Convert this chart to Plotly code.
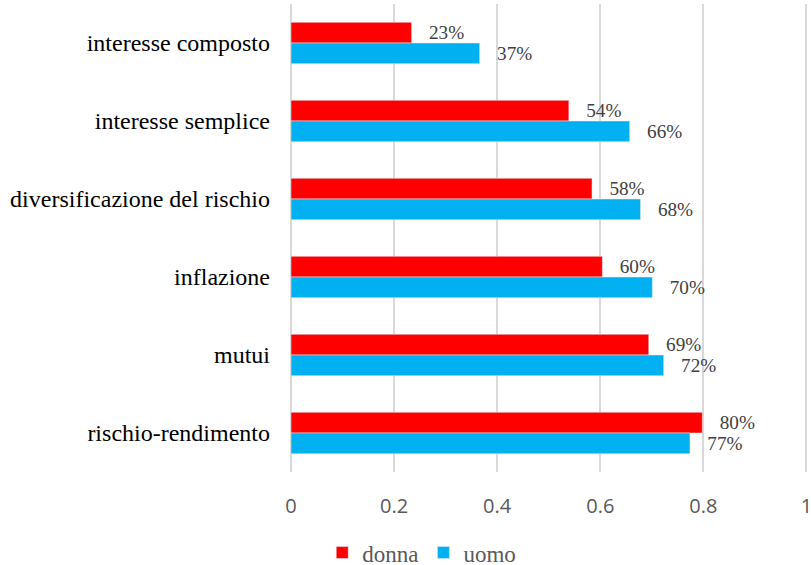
import plotly.graph_objects as go

categories = ["interesse composto", "interesse semplice", "diversificazione del rischio",
              "inflazione", "mutui", "rischio-rendimento"]
donna = [0.234, 0.539, 0.584, 0.604, 0.694, 0.798]
uomo = [0.366, 0.657, 0.678, 0.701, 0.723, 0.774]
x_ticks = [0, 0.2, 0.4, 0.6, 0.8, 1]

serif = "Liberation Serif, Times New Roman, serif"
sans = "Open Sans, sans-serif"
pad = "\u00a0\u00a0\u00a0"

fig = go.Figure()
fig.add_trace(go.Bar(
    y=categories, x=donna, orientation="h", name="donna",
    marker=dict(color="#FF0000"),
    texttemplate=pad + "%{x:.0%}", textposition="outside", cliponaxis=False,
    textfont=dict(family=serif, size=19.5, color="#404040"),
))
fig.add_trace(go.Bar(
    y=categories, x=uomo, orientation="h", name="uomo",
    marker=dict(color="#00B0F0"),
    texttemplate=pad + "%{x:.0%}", textposition="outside", cliponaxis=False,
    textfont=dict(family=serif, size=19.5, color="#404040"),
))

fig.update_layout(
    width=811, height=565,
    margin=dict(l=291, r=3, t=4, b=93, autoexpand=False),
    barmode="group", bargap=0.47, bargroupgap=0,
    plot_bgcolor="white", paper_bgcolor="white",
    showlegend=True,
    legend=dict(orientation="h", xref="container", yref="container",
                x=0.52, xanchor="center", y=0.022, yanchor="middle",
                font=dict(family=serif, size=23, color="#595959"),
                itemwidth=30, traceorder="normal"),
    xaxis=dict(range=[0, 1.003], tickvals=x_ticks, showgrid=True,
               gridcolor="#D9D9D9", gridwidth=1.5,
               zeroline=True, zerolinecolor="#D9D9D9", zerolinewidth=1.5,
               showline=False, ticks="", ticklabelstandoff=20,
               ticklabeloverflow="allow",
               tickfont=dict(family=sans, size=20, color="#595959")),
    yaxis=dict(autorange="reversed", showgrid=False, showline=False, ticks="",
               ticklabelstandoff=20,
               tickfont=dict(family=serif, size=24, color="#000000")),
)

fig.write_html("out.html", config={"displayModeBar": False},
               post_script="document.body.style.margin='0';")
